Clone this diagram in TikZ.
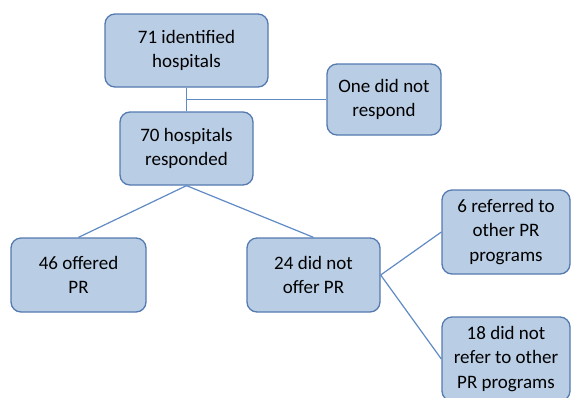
\documentclass[tikz,border=0pt]{standalone}
\usepackage{fontspec}
\setmainfont{Carlito}
\definecolor{boxfill}{RGB}{185,205,229}
\definecolor{boxborder}{RGB}{84,122,176}
\definecolor{linkcol}{RGB}{95,138,196}
\begin{document}
\begin{tikzpicture}[x=1pt,y=-1pt,
  flowbox/.style={draw=boxborder, line width=1.3pt, fill=boxfill, rounded corners=10pt,
    align=center, inner sep=0pt, font=\fontsize{19}{24.5}\selectfont},
  link/.style={draw=linkcol, line width=1.2pt}]
\useasboundingbox (0,0) rectangle (572,397);
\clip (0,0) rectangle (572,397);
\node[flowbox, minimum width=163pt, minimum height=73pt] (b71) at (186.5,50.5) {71 identified\\hospitals};
\node[flowbox, minimum width=114pt, minimum height=71pt] (one) at (384,99.5) {One did not\\respond};
\node[flowbox, minimum width=133pt, minimum height=73pt] (b70) at (186.5,148.5) {70 hospitals\\responded};
\node[flowbox, minimum width=135pt, minimum height=74pt] (b46) at (78.5,275) {46 offered\\PR};
\node[flowbox, minimum width=133pt, minimum height=74pt] (b24) at (313.5,275) {24 did not\\offer PR};
\node[flowbox, minimum width=128pt, minimum height=84pt] (b6) at (506,232) {6 referred to\\other PR\\programs};
\node[flowbox, minimum width=128pt, minimum height=84pt] (b18) at (506,359) {18 did not\\refer to other\\PR programs};
\draw[link] (b71.south) -- (b70.north);
\draw[link] (one.west) -- (one.west -| b71.south);
\draw[link] (b70.south) -- (b46.north);
\draw[link] (b70.south) -- (b24.north);
\draw[link] (b24.east) -- (b6.west);
\draw[link] (b24.east) -- (b18.west);
\end{tikzpicture}
\end{document}
